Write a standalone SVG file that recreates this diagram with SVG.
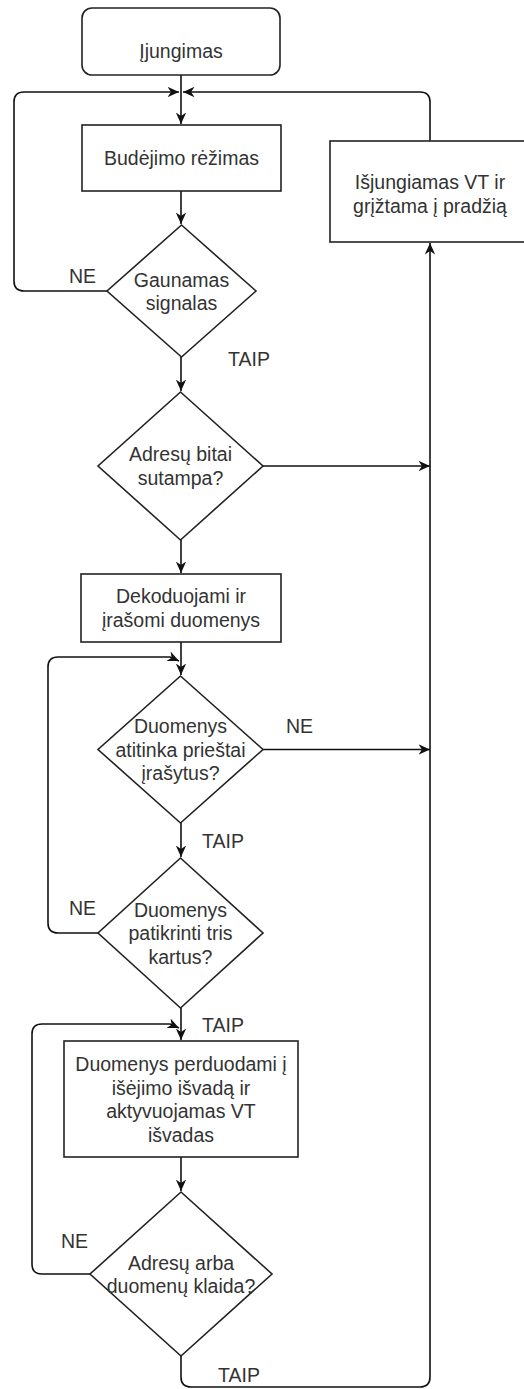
<svg xmlns="http://www.w3.org/2000/svg" width="524" height="1389" viewBox="0 0 524 1389">
<style>
.s{fill:#fff;stroke:#222;stroke-width:1.6}
.t{font-family:"Liberation Sans",Arial,sans-serif;font-size:19.5px;fill:#333;text-anchor:middle}
.l{font-family:"Liberation Sans",Arial,sans-serif;font-size:19.5px;fill:#333}
.c{fill:none;stroke:#111;stroke-width:1.6}
</style>
<defs>
<marker id="arr" viewBox="0 0 10 10" refX="10" refY="5" markerWidth="11.5" markerHeight="11.5" markerUnits="userSpaceOnUse" orient="auto">
<path d="M0,0.5 L10,5 L0,9.5 L3,5 Z" fill="#111"/>
</marker>
</defs>
<rect width="524" height="1389" fill="#fff"/>
<g id="connectors">
<path class="c" d="M181,75 V124" marker-end="url(#arr)"/>
<path class="c" d="M181,191 V224" marker-end="url(#arr)"/>
<path class="c" d="M107,291 H24 Q14,291 14,281 V102 Q14,92 24,92 H179" marker-end="url(#arr)"/>
<path class="c" d="M181,357 V391" marker-end="url(#arr)"/>
<path class="c" d="M263,466 H430" marker-end="url(#arr)"/>
<path class="c" d="M181,540 V573" marker-end="url(#arr)"/>
<path class="c" d="M181,642 V675" marker-end="url(#arr)"/>
<path class="c" d="M263,749.5 H430" marker-end="url(#arr)"/>
<path class="c" d="M181,823 V857" marker-end="url(#arr)"/>
<path class="c" d="M98,933 H58 Q48,933 48,923 V667 Q48,657 58,657 H170 L179,661" marker-end="url(#arr)"/>
<path class="c" d="M181,1008 V1040" marker-end="url(#arr)"/>
<path class="c" d="M181,1157 V1191" marker-end="url(#arr)"/>
<path class="c" d="M90,1274 H42 Q32,1274 32,1264 V1034 Q32,1024 42,1024 H170 L179,1028" marker-end="url(#arr)"/>
<path class="c" d="M181,1356 V1377 Q181,1387 191,1387 H420 Q430,1387 430,1377 V243" marker-end="url(#arr)"/>
<path class="c" d="M430,141 V102 Q430,92 420,92 H183" marker-end="url(#arr)"/>
</g>
<g id="start">
<rect class="s" x="82" y="8" width="198" height="67" rx="10"/>
<text class="t" x="181" y="58">Įjungimas</text>
</g>
<g id="standby">
<rect class="s" x="82" y="125" width="199" height="66"/>
<text class="t" x="181.5" y="165">Budėjimo rėžimas</text>
</g>
<g id="off">
<rect class="s" x="330" y="141" width="200" height="101"/>
<text class="t" x="430" y="189">Išjungiamas VT ir</text>
<text class="t" x="430" y="212.5">grįžtama į pradžią</text>
</g>
<g id="signal">
<polygon class="s" points="181.5,225 256,291 181.5,357 107,291"/>
<text class="t" x="181.5" y="286.5">Gaunamas</text>
<text class="t" x="181.5" y="310">signalas</text>
</g>
<g id="address">
<polygon class="s" points="180.5,392 263,466 180.5,540 98,466"/>
<text class="t" x="180.5" y="461">Adresų bitai</text>
<text class="t" x="180.5" y="484.5">sutampa?</text>
</g>
<g id="decode">
<rect class="s" x="81" y="574" width="200" height="68"/>
<text class="t" x="181" y="603">Dekoduojami ir</text>
<text class="t" x="181" y="626.5">įrašomi duomenys</text>
</g>
<g id="match">
<polygon class="s" points="180.5,676 263,749.5 180.5,823 98,749.5"/>
<text class="t" x="180.5" y="733">Duomenys</text>
<text class="t" x="180.5" y="756.5">atitinka prieštai</text>
<text class="t" x="180.5" y="780">įrašytus?</text>
</g>
<g id="three">
<polygon class="s" points="180.5,858 263,933 180.5,1008 98,933"/>
<text class="t" x="180.5" y="916.5">Duomenys</text>
<text class="t" x="180.5" y="940">patikrinti tris</text>
<text class="t" x="180.5" y="963.5">kartus?</text>
</g>
<g id="output">
<rect class="s" x="64" y="1041" width="234" height="116"/>
<text class="t" x="181" y="1071">Duomenys perduodami į</text>
<text class="t" x="181" y="1094.5">išėjimo išvadą ir</text>
<text class="t" x="181" y="1118">aktyvuojamas VT</text>
<text class="t" x="181" y="1141.5">išvadas</text>
</g>
<g id="error">
<polygon class="s" points="181,1192 272,1274 181,1356 90,1274"/>
<text class="t" x="181" y="1269.5">Adresų arba</text>
<text class="t" x="181" y="1293">duomenų klaida?</text>
</g>
<g id="labels">
<text class="l" x="69" y="283">NE</text>
<text class="l" x="228" y="366">TAIP</text>
<text class="l" x="286" y="733">NE</text>
<text class="l" x="202" y="848">TAIP</text>
<text class="l" x="69" y="915">NE</text>
<text class="l" x="202" y="1032">TAIP</text>
<text class="l" x="61" y="1248">NE</text>
<text class="l" x="218" y="1382">TAIP</text>
</g>
</svg>
